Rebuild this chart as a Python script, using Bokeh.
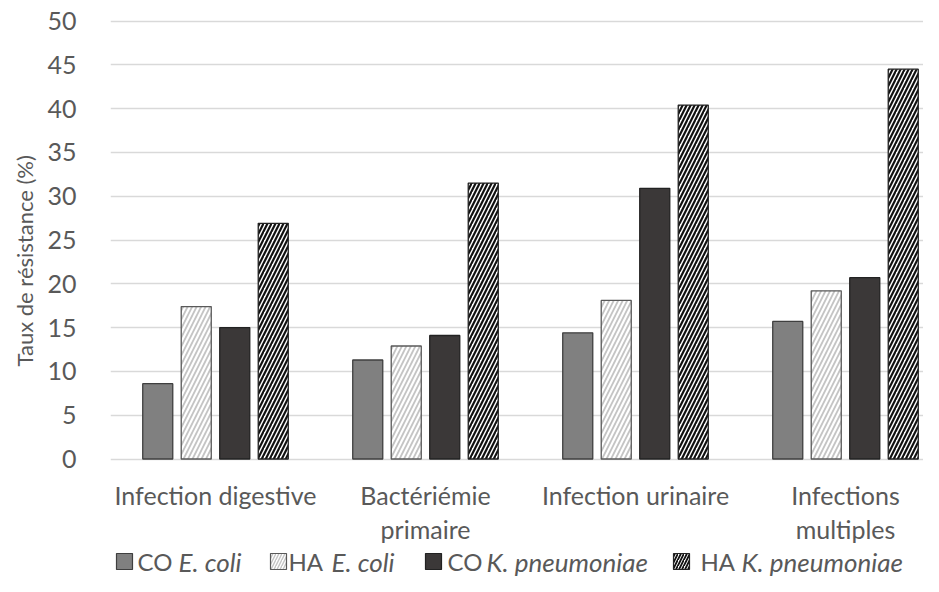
from bokeh.plotting import figure
from bokeh.models import Range1d, FixedTicker, ColumnDataSource, Title
from bokeh.layouts import column
from bokeh.embed import file_html
from bokeh.resources import INLINE
from bokeh.core.properties import value

# ---- data ----
cat_line1 = ["Infection digestive", "Bactériémie", "Infection urinaire", "Infections"]
cat_line2 = ["", "primaire", "", "multiples"]
co_ecoli = [8.6, 11.3, 14.4, 15.7]
ha_ecoli = [17.4, 12.9, 18.1, 19.2]
co_kpneu = [15.0, 14.1, 30.9, 20.7]
ha_kpneu = [26.9, 31.5, 40.4, 44.5]
y_ticks = [0, 5, 10, 15, 20, 25, 30, 35, 40, 45, 50]
legend_prefix = ["CO", "HA", "CO", "HA"]
legend_species = ["E. coli", "E. coli", "K. pneumoniae", "K. pneumoniae"]

FONT = "Lato"
TXT = "#595959"

series = [
    dict(vals=co_ecoli, fill="#808080", line="#3f3f3f", hatch=None, hcol=None, hw=0, hs=0),
    dict(vals=ha_ecoli, fill="#ffffff", line="#595959", hatch="/", hcol="#c4c4c4", hw=1.8, hs=9),
    dict(vals=co_kpneu, fill="#3b3838", line="#222222", hatch=None, hcol=None, hw=0, hs=0),
    dict(vals=ha_kpneu, fill="#ffffff", line="#222222", hatch="/", hcol="#111111", hw=2.2, hs=8),
]
offsets = [-0.275, -0.0917, 0.0917, 0.275]
bar_w = 0.143

W = 923
LEFT = 110
TOP = 16
BOTTOM = 14
FRAME_H = 446
H1 = TOP + FRAME_H + BOTTOM
H2 = 576 - H1
PPU = 8.76
xr = Range1d(-0.5, -0.5 + (W - LEFT) / 210.0)
y0 = -(FRAME_H - (458.5 - 16)) / PPU
yr = Range1d(y0, y0 + FRAME_H / PPU)

p = figure(width=W, height=H1, output_backend="svg", toolbar_location=None,
           x_range=xr, y_range=yr,
           min_border_left=LEFT, min_border_right=0, min_border_top=TOP, min_border_bottom=BOTTOM)
p.outline_line_color = None
p.background_fill_color = "white"

xs = list(range(len(cat_line1)))
for s, off in zip(series, offsets):
    src = ColumnDataSource(dict(x=[x + off for x in xs], top=s["vals"]))
    kw = dict(x="x", top="top", bottom=0, width=bar_w, source=src,
              fill_color=s["fill"], line_color=s["line"], line_width=1.3)
    if s["hatch"]:
        kw.update(hatch_pattern=s["hatch"], hatch_color=s["hcol"],
                  hatch_weight=s["hw"], hatch_scale=s["hs"])
    p.vbar(**kw)

# grid
p.xgrid.visible = False
p.ygrid.ticker = FixedTicker(ticks=y_ticks)
p.ygrid.grid_line_color = "#d9d9d9"
p.ygrid.grid_line_width = 1.6

# y axis
p.xaxis.visible = False
p.yaxis.ticker = FixedTicker(ticks=y_ticks)
p.yaxis.axis_line_color = None
p.yaxis.major_tick_line_color = None
p.yaxis.minor_tick_line_color = None
p.yaxis.major_label_text_font = FONT
p.yaxis.major_label_text_font_size = "25px"
p.yaxis.major_label_text_color = TXT
p.yaxis.major_label_standoff = 28

ytitle = Title(text="Taux de résistance (%)", align="left", offset=96,
               text_font=FONT, text_font_size="22px", text_font_style="normal",
               text_color=TXT, standoff=14)
p.add_layout(ytitle, "left")

# ---- category labels + legend figure (y measured downward in px) ----
lg = figure(width=W, height=H2, output_backend="svg", toolbar_location=None,
            x_range=xr, y_range=Range1d(H2, 0),
            min_border_left=LEFT, min_border_right=0, min_border_top=0, min_border_bottom=0)
lg.axis.visible = False
lg.grid.visible = False
lg.outline_line_color = None

lg.text(x=xs, y=[494 - H1] * 4, text=cat_line1, text_font=value(FONT), text_font_size="25px",
        text_color=TXT, text_baseline="middle", text_align="center")
lg.text(x=xs, y=[528 - H1] * 4, text=cat_line2, text_font=value(FONT), text_font_size="25px",
        text_color=TXT, text_baseline="middle", text_align="center")

def px(c):
    # canvas pixel -> data x
    return -0.5 + (c - LEFT) / 210.0

yc = 561 - H1
sq_x = [124, 278, 433, 681]
pre_x = [137, 288, 447, 700]
spe_x = [178, 331, 486, 741]
for s, sx in zip(series, sq_x):
    kw = dict(x=[px(sx)], y=[yc], width=16, height=16, width_units="screen", height_units="screen",
              fill_color=s["fill"], line_color=s["line"], line_width=1.2)
    if s["hatch"]:
        kw.update(hatch_pattern=s["hatch"], hatch_color=s["hcol"],
                  hatch_weight=max(1.2, s["hw"] - 0.4), hatch_scale=6)
    lg.rect(**kw)
lg.text(x=[px(c) for c in pre_x], y=[yc] * 4, text=legend_prefix, text_font=value(FONT),
        text_font_size="24px", text_color=TXT, text_baseline="middle", text_align="left")
lg.text(x=[px(c) for c in spe_x], y=[yc] * 4, text=legend_species, text_font=value(FONT),
        text_font_size="26px", text_font_style="italic", text_color=TXT,
        text_baseline="middle", text_align="left")

layout = column(p, lg, spacing=0)
open("out.html", "w").write(file_html(layout, INLINE))
